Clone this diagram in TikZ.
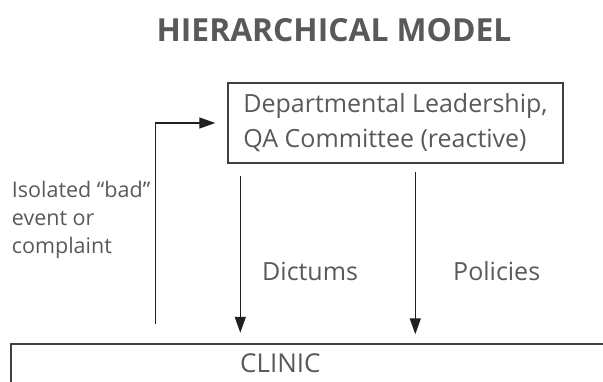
\documentclass[tikz,border=0pt]{standalone}
\usepackage{fontspec}
\setmainfont{Open Sans}
\usetikzlibrary{arrows.meta,calc}
\definecolor{txt}{HTML}{58595B}
\definecolor{ln}{HTML}{231F20}
\definecolor{bx}{HTML}{404041}
\begin{document}
\begin{tikzpicture}[x=1pt,y=-1pt,
  lbl/.style={text=txt,inner sep=0pt,anchor=base west,font=\fontsize{25}{35}\selectfont},
  arr/.style={draw=ln,line width=1.3pt,-{Triangle[length=16pt,width=11pt]}},
  plain/.style={draw=ln,line width=1.3pt}]
\useasboundingbox (0,0) rectangle (603,381);
% title
\node[text=txt,inner sep=0pt,anchor=base,font=\fontsize{31.8}{40}\bfseries\selectfont] (title) at (334,41.7) {HIERARCHICAL MODEL};
% leadership box
\node[draw=bx,line width=1.4pt,minimum width=335pt,minimum height=80pt,inner sep=0pt,
  text=txt,align=left,font=\fontsize{25}{35}\selectfont] (lead) at (395.5,123)
  {Departmental Leadership,\\QA Committee (reactive)};
% clinic line
\coordinate (clinictl) at (11,344.3);
\coordinate (clinicbl) at (11,390);
\coordinate (clinictr) at (620,344.3);
\draw[draw=bx,line width=1.8pt] (clinicbl) -- (clinictl) -- (clinictr);
\node[lbl,font=\fontsize{26}{32}\selectfont] (clinic) at (240,372.7) {CLINIC};
% feedback path
\coordinate (evstart) at (155.5,324);
\draw[arr,shorten >=12pt] (evstart) |- (lead.west);
\node[lbl,font=\fontsize{21.5}{28.2}\selectfont,align=left,anchor=north west] (event) at (11.7,180.5)
  {Isolated “bad”\\event or\\complaint};
% downward arrows
\draw[arr,shorten <=12pt,shorten >=11.5pt] ([xshift=13pt]lead.south west) -- ([xshift=13pt]lead.south west |- clinictl);
\draw[arr,shorten <=8.5pt,shorten >=10pt] ([xshift=188pt]lead.south west) -- ([xshift=188pt]lead.south west |- clinictl);
\node[lbl] (dict) at (262,280.5) {Dictums};
\node[lbl] (pol) at (453,280.5) {Policies};
\end{tikzpicture}
\end{document}
